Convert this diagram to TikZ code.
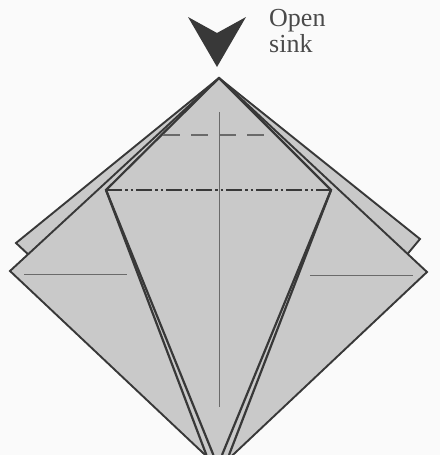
\documentclass[tikz,border=0pt]{standalone}
\usepackage{fontspec}
\setmainfont{Liberation Serif}
\usetikzlibrary{positioning}
\definecolor{sinkPaper}{HTML}{C9C9C9}
\definecolor{sinkInk}{HTML}{383838}
\definecolor{sinkCrease}{HTML}{6A6A6A}
\definecolor{sinkBack}{HTML}{FAFAFA}
\definecolor{sinkText}{HTML}{4A4A4A}

\begin{document}
\begin{tikzpicture}[
    x=1pt, y=-1pt,
    paper/.style={
        draw=sinkInk, line width=1.9pt, fill=sinkPaper, line join=miter
    },
    edgeln/.style={
        draw=sinkInk, line width=2.2pt
    },
    crease/.style={
        draw=sinkCrease, line width=1pt
    },
    valley/.style={
        draw=sinkCrease, line width=1.2pt, dash pattern=on 17pt off 11pt
    },
    mountain/.style={
        draw=sinkInk, line width=2pt,
        dash pattern=on 16pt off 3pt on 2.5pt off 3pt on 2.5pt off 3pt
    },
    lbl/.style={
        font=\fontsize{26}{26}\selectfont, text=sinkText, align=left,
        inner sep=0pt, anchor=north west
    }
]

\useasboundingbox (0,0) rectangle (440,455);
\fill[sinkBack] (0,0) rectangle (440,455);
\clip (0,0) rectangle (440,455);

% === Corners ===
\coordinate (apex) at (219,78);
\coordinate (backL) at (16,243);
\coordinate (backR) at (420,239);
\coordinate (frontL) at (10,271);
\coordinate (frontR) at (427,272);
\coordinate (tip) at (219,468);
\coordinate (kiteL) at (106,190);
\coordinate (kiteR) at (331,190);

% === Paper layers ===
% Back layer
\draw[paper] (apex) -- (backR) -- (405,257) -- (31,257) -- (backL) -- cycle;
% Front square
\draw[paper] (apex) -- (frontR) -- (tip) -- (frontL) -- cycle;

% === Kite edges ===
\draw[edgeln] (apex) -- (kiteL) -- (213.4,455);
\draw[edgeln] (kiteL) -- (206.4,455);
\draw[edgeln] (apex) -- (kiteR) -- (222,455);
\draw[edgeln] (kiteR) -- (229,455);

% === Creases ===
\draw[crease] (219,112) -- (219,407);
\draw[crease] (24,274.5) -- (127,274.5);
\draw[crease] (310,275) -- (413,275);
\draw[valley] (163,135) -- (275,135);
\draw[mountain] (kiteL) -- (kiteR);

% === Arrow and label ===
\fill[sinkInk] (188,17) -- (217,33) -- (246,17) -- (217,67) -- cycle;
\node[lbl] (sinklbl) at (269,9) {Open\\sink};

\end{tikzpicture}
\end{document}
